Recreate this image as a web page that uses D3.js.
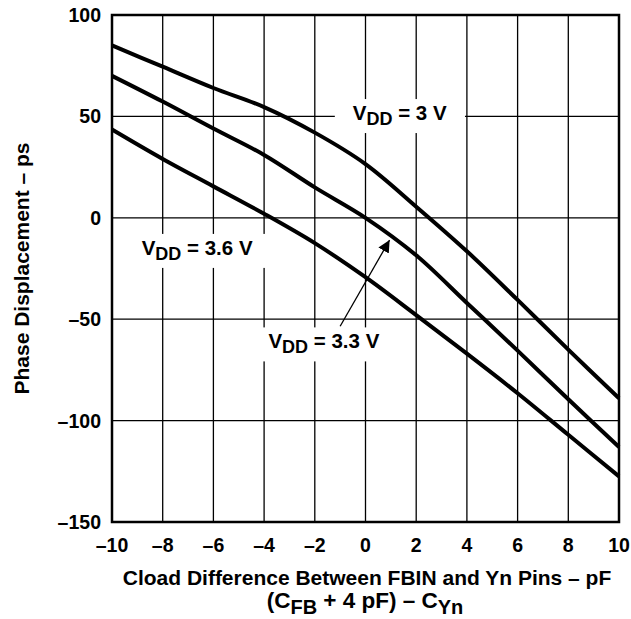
<!DOCTYPE html>
<html><head><meta charset="utf-8">
<script src="https://cdn.jsdelivr.net/npm/d3@7"></script>
<style>body{margin:0;background:#fff}svg text{font-family:"Liberation Sans",Arial,sans-serif;font-weight:bold;fill:#000}</style>
</head><body><svg id="c" width="631" height="619"></svg>
<script>
const xVals = [-10,-8,-6,-4,-2,0,2,4,6,8,10];
const vdd30 = [85,74.5,64,54.6,42,26.5,5.5,-16.5,-40.5,-65,-89];
const vdd33 = [70,57.3,44,31,15,0,-18.5,-42,-65.5,-89.5,-113];
const vdd36 = [43.5,29,15.5,2,-12.5,-29.3,-48,-67,-86.5,-107,-127.5];
const xTicks = [-10,-8,-6,-4,-2,0,2,4,6,8,10];
const yTicks = [100,50,0,-50,-100,-150];
const labels = [
  {x:-0.5, y:48.2, main:"V", sub:"DD", rest:" = 3 V"},
  {x:-8.83, y:-18.3, main:"V", sub:"DD", rest:" = 3.6 V"},
  {x:-3.83, y:-64.4, main:"V", sub:"DD", rest:" = 3.3 V"}
];

const svg = d3.select("#c");
const L=112,R=619,T=15,B=522;
const x = d3.scaleLinear().domain([-10,10]).range([L,R]);
const y = d3.scaleLinear().domain([-150,100]).range([B,T]);
const fmt = d=> d<0 ? "\u2013"+Math.abs(d) : String(d);

// grid
svg.append("g").selectAll("line").data(xTicks.slice(1,-1)).join("line")
  .attr("x1",d=>x(d)).attr("x2",d=>x(d)).attr("y1",T).attr("y2",B)
  .attr("stroke","#000").attr("stroke-width",1.3);
svg.append("g").selectAll("line").data(yTicks.slice(1,-1)).join("line")
  .attr("x1",L).attr("x2",R).attr("y1",d=>y(d)).attr("y2",d=>y(d))
  .attr("stroke","#000").attr("stroke-width",1.3);

// curves
const line = d3.line().x((d,i)=>x(xVals[i])).y(d=>y(d)).curve(d3.curveCatmullRom.alpha(0.5));
[vdd30,vdd33,vdd36].forEach(s=>{
  svg.append("path").attr("d",line(s)).attr("fill","none").attr("stroke","#000").attr("stroke-width",4);
});

// labels with white backgrounds
labels.forEach(l=>{
  const g = svg.append("g");
  const t = g.append("text").attr("x",x(l.x)).attr("y",y(l.y)).attr("font-size",20.5);
  t.append("tspan").text(l.main);
  t.append("tspan").attr("dy",5).attr("font-size",18).text(l.sub);
  t.append("tspan").attr("dy",-5).text(l.rest);
  const bb = t.node().getBBox();
  g.insert("rect","text").attr("x",bb.x-18).attr("y",bb.y-2).attr("width",bb.width+36).attr("height",bb.height+6).attr("fill","#fff");
});

// arrow
svg.append("defs").append("marker").attr("id","ah").attr("viewBox","0 0 10 10").attr("refX",10).attr("refY",5)
  .attr("markerWidth",12).attr("markerHeight",12).attr("markerUnits","userSpaceOnUse").attr("orient","auto")
  .append("path").attr("d","M0,0L10,5L0,10z").attr("fill","#000");
svg.append("line").attr("x1",x(-1.0)).attr("y1",y(-53.5)).attr("x2",x(0.95)).attr("y2",y(-11))
  .attr("stroke","#000").attr("stroke-width",1.3).attr("marker-end","url(#ah)");

// frame
svg.append("rect").attr("x",L).attr("y",T).attr("width",R-L).attr("height",B-T)
  .attr("fill","none").attr("stroke","#000").attr("stroke-width",2.5);

// tick labels
svg.append("g").selectAll("text").data(xTicks).join("text")
  .attr("x",d=>x(d)).attr("y",552).attr("text-anchor","middle").attr("font-size",19.5).text(fmt);
svg.append("g").selectAll("text").data(yTicks).join("text")
  .attr("x",L-11).attr("y",d=>y(d)+7).attr("text-anchor","end").attr("font-size",19.5).text(fmt);

// axis titles
svg.append("text").attr("x",367).attr("y",585).attr("text-anchor","middle").attr("font-size",21)
  .text("Cload Difference Between FBIN and Yn Pins \u2013 pF");
const t2 = svg.append("text").attr("x",365).attr("y",608).attr("text-anchor","middle").attr("font-size",22.5);
t2.append("tspan").text("(C");
t2.append("tspan").attr("dy",6).attr("font-size",20).text("FB");
t2.append("tspan").attr("dy",-6).text(" + 4 pF) \u2013 C");
t2.append("tspan").attr("dy",6).attr("font-size",20).text("Yn");
svg.append("text").attr("transform",`translate(29,268.5) rotate(-90)`).attr("text-anchor","middle").attr("font-size",21)
  .text("Phase Displacement \u2013 ps");
</script></body></html>
